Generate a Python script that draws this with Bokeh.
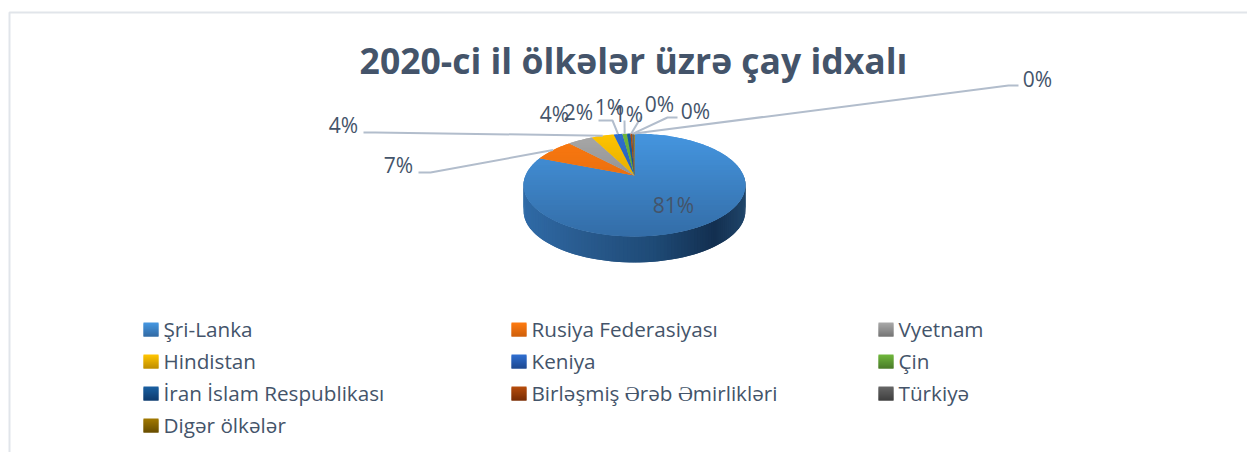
import math
from bokeh.plotting import figure
from bokeh.models import ColumnDataSource
from bokeh.core.properties import value
from bokeh.embed import file_html
from bokeh.resources import INLINE

# ---- data -------------------------------------------------------------
title = "2020-ci il ölkələr üzrə çay idxalı"
countries = ["Şri-Lanka", "Rusiya Federasiyası", "Vyetnam", "Hindistan", "Keniya", "Çin",
             "İran İslam Respublikası", "Birləşmiş Ərəb Əmirlikləri", "Türkiyə", "Digər ölkələr"]
shares = [81.0, 7.1, 4.4, 3.9, 1.5, 0.8, 0.6, 0.3, 0.3, 0.1]

# ---- style ------------------------------------------------------------
light = ["#4596e0", "#fd7a10", "#a8a8a8", "#ffc400", "#2f6fd0", "#6fb63c", "#1a5fa0", "#b54c0c", "#666666", "#a07800"]
dark = ["#336ca6", "#d0600c", "#777777", "#c08f00", "#1f4a92", "#4c7d2a", "#0e3c70", "#7a2e05", "#404040", "#6a4f00"]
TEXT = "#44546a"
LEADER = "#b2bdcc"
FONT = value("Open Sans")
W, H = 1247, 452

# ---- layout (page pixels) ----------------------------------------------
CX, CY = 634.0, 175.0
A_X, A_Y, K = 109.0, 49.7, 0.1845
DEPTH = 26.0
TOP_Y, BOTTOM_Y = 132.0, 237.0
label_cx = [673, 398, 554, 343, 578, 628, 609, 659, 695, 1037]
label_cy = [204.5, 164.5, 113.5, 124.5, 111.5, 113.5, 106.5, 103.5, 110.5, 78.5]
# leader path from the label towards the slice rim (None = no leader)
leader_path = [None, [(418, 172), (430, 172)], None, [(363, 132), (375, 132)],
               [(598, 120), (612, 120)], [(624, 120)], None, [(641, 116)],
               [(677, 117), (667, 117)], [(1018, 85), (1008, 85)]]
legend_x = [143, 511, 878]
legend_y = [329, 361, 393, 425]


def hex2rgb(c):
    return tuple(int(c[i:i + 2], 16) for i in (1, 3, 5))


def mix(a, b, t):
    ra, rb = hex2rgb(a), hex2rgb(b)
    return "#%02x%02x%02x" % tuple(round(x + (y - x) * t) for x, y in zip(ra, rb))


def project(theta):
    u, v = math.sin(theta), math.cos(theta)
    d = 1 + K * v
    return CX + A_X * u / d, CY - A_Y * v / d


def clip(poly, y0, y1):
    def half(points, keep, cross):
        out = []
        for i, p in enumerate(points):
            q = points[(i + 1) % len(points)]
            if keep(p):
                out.append(p)
            if keep(p) != keep(q):
                t = (cross - p[1]) / (q[1] - p[1])
                out.append((p[0] + (q[0] - p[0]) * t, cross))
        return out
    r = half(poly, lambda p: p[1] >= y0, y0)
    if r:
        r = half(r, lambda p: p[1] <= y1, y1)
    return r


total = sum(shares)
edges = [0.0]
for s in shares:
    edges.append(edges[-1] + s / total * 2 * math.pi)

p = figure(width=W, height=H, x_range=(0, W), y_range=(H, 0), toolbar_location=None,
           output_backend="svg", min_border=0, x_axis_type=None, y_axis_type=None,
           outline_line_color=None, background_fill_color="white", border_fill_color="white")
p.grid.visible = False

# frame
p.line([9, 9, 1247], [452, 12, 12], line_color="#e1e5ea", line_width=2)

# side wall of the pie: strips along the front half
side_stops = [(0.0, "#2f6aa6"), (0.3, "#28598c"), (0.6, "#1e4a76"), (0.87, "#132f50"), (1.0, "#1f4468")]


def side_color(f):
    for (a, ca), (b, cb) in zip(side_stops, side_stops[1:]):
        if f <= b:
            return mix(ca, cb, (f - a) / (b - a))
    return side_stops[-1][1]


xs, ys, cs = [], [], []
STRIPS = 110
left_x, right_x = project(math.radians(268))[0], project(math.radians(92))[0]
for k in range(STRIPS):
    t0 = math.radians(268 - 176 * k / STRIPS)
    t1 = math.radians(268 - 176 * (k + 2) / STRIPS) if k < STRIPS - 1 else math.radians(92)
    (x0, y0), (x1, y1) = project(t0), project(t1)
    xs.append([x0, x1, x1, x0])
    ys.append([y0, y1, y1 + DEPTH, y0 + DEPTH])
    cs.append(side_color((0.5 * (x0 + x1) - left_x) / (right_x - left_x)))
p.patches(xs, ys, fill_color=cs, line_color=None)

# top surface: slices split in horizontal bands (each overlapping the next) for the gradient
BANDS = 42
for i in range(len(shares)):
    a0, a1 = edges[i], edges[i + 1]
    n = max(2, int((a1 - a0) / 0.02))
    poly = [(CX, CY)] + [project(a0 + (a1 - a0) * j / n) for j in range(n + 1)]
    bx, by, bc = [], [], []
    for b in range(BANDS):
        y0 = TOP_Y + (BOTTOM_Y - TOP_Y) * b / BANDS
        y1 = TOP_Y + (BOTTOM_Y - TOP_Y) * (b + 2) / BANDS
        part = clip(poly, y0, y1)
        if len(part) >= 3:
            bx.append([q[0] for q in part])
            by.append([q[1] for q in part])
            bc.append(mix(light[i], dark[i], (b + 0.5) / BANDS))
    if bx:
        p.patches(bx, by, fill_color=bc, line_color=None)

# leaders
lx, ly = [], []
for i, path in enumerate(leader_path):
    if path is None:
        continue
    ax, ay = project(0.5 * (edges[i] + edges[i + 1]))
    pts = path + [(ax, ay)]
    lx.append([q[0] for q in pts])
    ly.append([q[1] for q in pts])
p.multi_line(lx, ly, line_color=LEADER, line_width=2)

# percentage labels
src = ColumnDataSource(dict(x=label_cx, y=label_cy, t=[f"{round(s / total * 100)}%" for s in shares]))
p.text("x", "y", "t", source=src, text_font=FONT, text_font_size="21px", text_color=TEXT,
       text_align="center", text_baseline="middle")

# title
p.text([633], [59], [title], text_font=FONT, text_font_size="35.5px", text_font_style="bold",
       text_color=TEXT, text_align="center", text_baseline="middle")

# legend
for i, name in enumerate(countries):
    x = legend_x[i % 3]
    y = legend_y[i // 3]
    steps = 14
    p.quad(left=[x] * steps, right=[x + 15] * steps,
           top=[y - 7 + s for s in range(steps)],
           bottom=[min(y - 5 + s, y + 7) for s in range(steps)],
           fill_color=[mix(light[i], dark[i], s / (steps - 1)) for s in range(steps)], line_color=None)
    p.text([x + 20], [y - 1], [name], text_font=FONT, text_font_size="20.7px", text_color=TEXT,
           text_align="left", text_baseline="middle")

open("out.html", "w").write(file_html(p, INLINE))
